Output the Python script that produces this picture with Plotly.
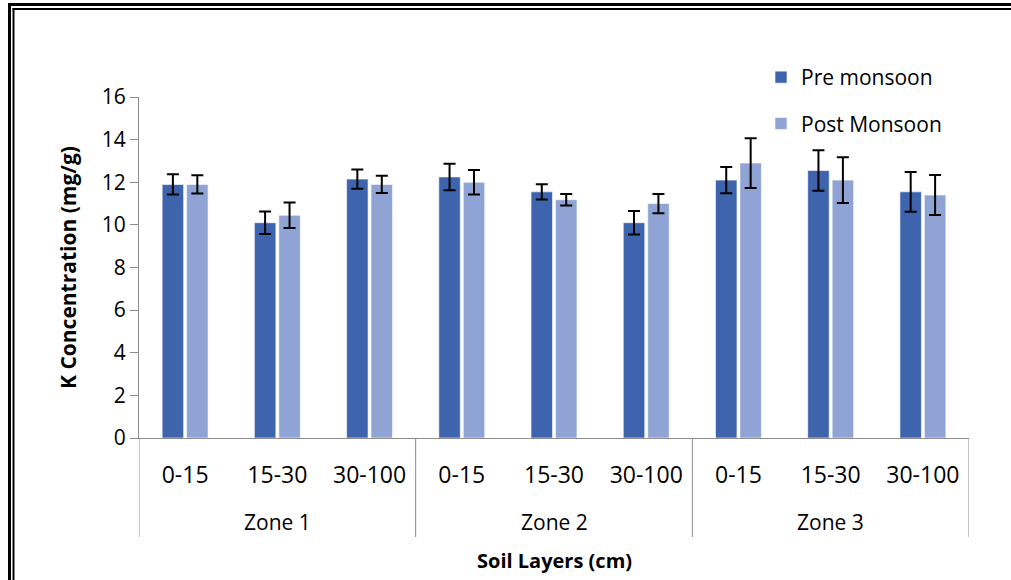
import plotly.graph_objects as go

zone_names = ["Zone 1", "Zone 2", "Zone 3"]
layer_names = ["0-15", "15-30", "30-100"]
layers = layer_names * 3

pre_vals = [11.9, 10.1, 12.15, 12.25, 11.55, 10.1, 12.1, 12.55, 11.55]
pre_err = [0.47, 0.53, 0.45, 0.62, 0.36, 0.55, 0.62, 0.95, 0.93]
post_vals = [11.9, 10.45, 11.9, 12.0, 11.18, 11.0, 12.9, 12.1, 11.4]
post_err = [0.43, 0.6, 0.4, 0.58, 0.27, 0.45, 1.17, 1.07, 0.94]

PRE_COLOR = "#3D64AD"
POST_COLOR = "#8FA4D4"
AXIS_COLOR = "#8c8c8c"
FONT = "Open Sans"

W, H = 1011, 580
L, R, T, B = 139, 42, 97, 142
pw, ph = W - L - R, H - T - B


def px_x(x):
    return (x - L) / pw


def px_y(y):
    return (H - B - y) / ph


xpos = list(range(len(layers)))

fig = go.Figure()
fig.add_trace(go.Bar(
    x=xpos, y=pre_vals, name="Pre monsoon", legendgroup="a",
    marker=dict(color=PRE_COLOR, line=dict(color="rgba(255,255,255,0.6)", width=1)),
    error_y=dict(type="data", array=pre_err, color="black", thickness=2, width=6),
))
fig.add_trace(go.Bar(
    x=xpos, y=post_vals, name="Post Monsoon", legendgroup="b",
    marker=dict(color=POST_COLOR, line=dict(color="rgba(255,255,255,0.6)", width=1)),
    error_y=dict(type="data", array=post_err, color="black", thickness=2, width=6),
))

fig.update_layout(
    width=W, height=H,
    margin=dict(l=L, r=R, t=T, b=B),
    paper_bgcolor="white", plot_bgcolor="white",
    barmode="group", bargap=0.47, bargroupgap=0.12,
    font=dict(family=FONT, size=20, color="black"),
    showlegend=True,
    legend=dict(x=px_x(761), y=px_y(57), xanchor="left", yanchor="top",
                font=dict(size=21), traceorder="grouped", tracegroupgap=16,
                bgcolor="rgba(0,0,0,0)"),
    xaxis=dict(
        range=[-0.5, len(layers) - 0.5], tickvals=xpos, ticktext=layers,
        showline=True, linecolor=AXIS_COLOR, linewidth=1, showgrid=False,
        zeroline=False, ticks="", tickfont=dict(size=23), ticklabelstandoff=16,
    ),
    yaxis=dict(
        range=[0, 16], dtick=2, showgrid=False, zeroline=False,
        showline=True, linecolor=AXIS_COLOR, linewidth=1,
        ticks="outside", ticklen=8, tickcolor=AXIS_COLOR,
        tickfont=dict(size=21),
    ),
)

# group dividers below the axis
for i in range(len(zone_names) + 1):
    fig.add_shape(type="line", xref="x", yref="paper", x0=i * 3 - 0.5, x1=i * 3 - 0.5,
                  y0=0, y1=px_y(537), line=dict(color=AXIS_COLOR, width=1))

# zone labels
for i, z in enumerate(zone_names):
    fig.add_annotation(x=i * 3 + 1, y=px_y(522), xref="x", yref="paper", text=z,
                       showarrow=False, font=dict(size=21), yanchor="middle")

# axis titles
fig.add_annotation(x=px_x(554), y=px_y(560), xref="paper", yref="paper",
                   text="<b>Soil Layers (cm)</b>", showarrow=False,
                   font=dict(size=20), yanchor="middle")
fig.add_annotation(x=px_x(68), y=px_y(268), xref="paper", yref="paper",
                   text="<b>K Concentration (mg/g)</b>", showarrow=False, textangle=-90,
                   font=dict(size=21), xanchor="center", yanchor="middle")

# double frame (top and left)
frame = [
    (px_x(9.5), px_y(3), px_x(9.5), px_y(600), 3),
    (px_x(13.5), px_y(8), px_x(13.5), px_y(600), 2),
    (px_x(8), px_y(4.5), px_x(1020), px_y(4.5), 3),
    (px_x(12.5), px_y(9), px_x(1020), px_y(9), 2),
]
for x0, y0, x1, y1, w in frame:
    fig.add_shape(type="line", xref="paper", yref="paper", x0=x0, y0=y0, x1=x1, y1=y1,
                  line=dict(color="black", width=w), layer="above")

fig.write_html("out.html", config={"displayModeBar": False},
               post_script="document.body.style.margin='0px';")
